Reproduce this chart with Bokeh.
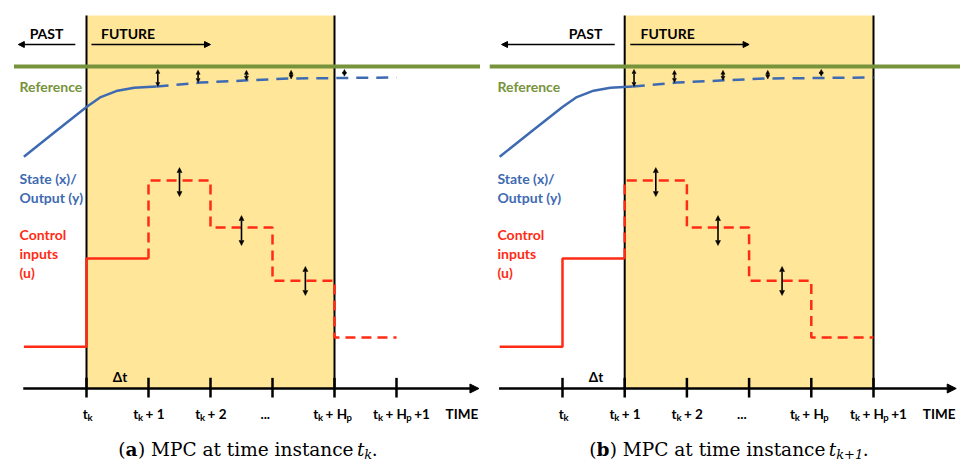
from bokeh.plotting import figure
from bokeh.models import ColumnDataSource, Arrow, NormalHead, Range1d
from bokeh.layouts import row
from bokeh.embed import file_html
from bokeh.resources import INLINE
from bokeh.core.properties import value, field

# ---------------- data (time in steps relative to t_k) ----------------
ref_level = 10.0
ref_t = [-1.17, 6.4]

state_meas_t = [-1.01, -0.5, 0.0, 0.23, 0.5, 0.77, 1.13]
state_meas_v = [7.20, 7.98, 8.74, 9.05, 9.25, 9.34, 9.38]
state_pred_t = [1.13, 1.84, 2.6, 3.3, 4.0, 5.0]
state_pred_v = [9.38, 9.50, 9.57, 9.63, 9.64, 9.66]

u_past_edges = [-1.01, 0, 1]
u_past_vals = [1.30, 4.04]
u_future_edges = [1, 2, 3, 4, 5]
u_future_vals = [6.46, 5.00, 3.35, 1.58]

track_t = [1.15, 1.8, 2.58, 3.3, 4.16]
track_top = [9.91, 9.88, 9.88, 9.88, 9.91]
track_bot = [9.38, 9.50, 9.57, 9.61, 9.70]

move_t = [1.5, 2.5, 3.53]
move_top = [6.86, 5.37, 3.79]
move_bot = [5.96, 4.44, 2.89]

tick_t = [0, 1, 2, 3, 4, 5]
tick_labels = ["t_k", "t_k + 1", "t_k + 2", "...", "t_k + H_p", "t_k + H_p +1"]
tick_label_shift = [1, 0, 0, -7, -2, 5]   # px

side_labels = [("Reference", 9.38, "green"), ("State (x)/", 6.52, "blue"),
               ("Output (y)", 5.93, "blue"), ("Control", 4.78, "red"),
               ("inputs", 4.19, "red"), ("(u)", 3.60, "red")]

panels = [
    dict(letter="a", horizon=(0, 4), past_arrow=(-0.18, -1.10), future_arrow=(0.08, 2.0),
         past_label=-0.645, future_label=0.67, label_t=-1.08, caption_sub="k",
         caption_center=2.605, width=480, t0_px=86, scale=62.0),
    dict(letter="b", horizon=(1, 5), past_arrow=(0.84, -0.98), future_arrow=(1.09, 3.0),
         past_label=0.37, future_label=1.69, label_t=-1.045, caption_sub="k+1",
         caption_center=2.677, width=480, t0_px=82, scale=62.2),
]

GREEN = "#77933C"
BLUE = "#3E6AB2"
RED = "#FF2B14"
YELLOW = "#FFE699"
COLORS = {"green": GREEN, "blue": BLUE, "red": RED}

H = 461
Y_SCALE = 32.2
Y_AXIS_PX = 388
BOX_TOP = 11.58
TICK_TOP, TICK_BOT = 0.33, -0.28
AXIS_T = (-1.02, 6.33)

LATO_B = {' ': 0.193, 't': 0.355, 'k': 0.52, 'p': 0.565, 'H': 0.77, '+': 0.58,
          '1': 0.58, '2': 0.58, '.': 0.25}
DJS = {' ': 0.318, '(': 0.39, ')': 0.39, 'M': 0.926, 'P': 0.678, 'C': 0.718, 'a': 0.598,
       't': 0.402, 'i': 0.32, 'm': 0.957, 'e': 0.592, 'n': 0.641, 's': 0.518, 'c': 0.549,
       '.': 0.318, 'k': 0.58, '+': 0.838, '1': 0.636, 'b': 0.64}
DJS_BOLD = {'a': 0.675, 'b': 0.716}


def width(txt, size, style, table, bold_table=None):
    w = 0
    for ch in txt:
        if style == "bold" and bold_table and ch in bold_table:
            w += bold_table[ch]
        else:
            w += table.get(ch, 0.55)
    return w * size


def parse_sub(label):
    pieces, buf, i = [], "", 0
    while i < len(label):
        if label[i] == "_" and i + 1 < len(label):
            if buf:
                pieces.append((buf, False))
            pieces.append((label[i + 1], True))
            buf = ""
            i += 2
        else:
            buf += label[i]
            i += 1
    if buf:
        pieces.append((buf, False))
    return pieces


def step_path(edges, vals, start_val=None):
    xs, ys = [], []
    if start_val is not None:
        xs.append(edges[0]); ys.append(start_val)
    for k, v in enumerate(vals):
        xs += [edges[k], edges[k + 1]]
        ys += [v, v]
    return xs, ys


def lay_out(pieces, table, bold_table, start):
    """pieces: (text, size, style, dy). leading spaces become offsets (SVG strips them)."""
    out = []
    xo = start
    for s, sz, st, dy in pieces:
        lead = len(s) - len(s.lstrip(" "))
        xo += width(" " * lead, sz, st, table, bold_table)
        core = s.lstrip(" ")
        out.append((core, xo, sz, st, dy))
        xo += width(core, sz, st, table, bold_table)
    return out


def total_width(pieces, table, bold_table):
    return sum(width(s, sz, st, table, bold_table) for s, sz, st, dy in pieces)


def make_panel(cfg):
    w = cfg["width"]
    sc = cfg["scale"]
    x0 = -cfg["t0_px"] / sc
    y1 = Y_AXIS_PX / Y_SCALE
    p = figure(width=w, height=H, output_backend="svg", toolbar_location=None,
               x_axis_location=None, y_axis_location=None, min_border=0,
               x_range=Range1d(x0, x0 + w / sc), y_range=Range1d(y1 - H / Y_SCALE, y1))
    p.grid.visible = False
    p.outline_line_color = None
    p.background_fill_color = "white"
    p.border_fill_color = "white"

    h0, h1 = cfg["horizon"]
    p.quad(left=[h0], right=[h1], bottom=[0], top=[BOX_TOP], fill_color=YELLOW, line_color=None)
    p.segment(x0=[h0, h1], y0=[0, 0], x1=[h0, h1], y1=[BOX_TOP, BOX_TOP], line_color="black", line_width=2)
    p.segment(x0=tick_t, y0=[TICK_BOT] * len(tick_t), x1=tick_t, y1=[TICK_TOP] * len(tick_t),
              line_color="black", line_width=2.5)
    p.add_layout(Arrow(end=NormalHead(size=9, fill_color="black", line_color="black"),
                       x_start=AXIS_T[0], y_start=0, x_end=AXIS_T[1], y_end=0,
                       line_color="black", line_width=2.5))

    p.line(ref_t, [ref_level, ref_level], line_color=GREEN, line_width=4)

    p.line(state_meas_t, state_meas_v, line_color=BLUE, line_width=2.5)
    p.line(state_pred_t, state_pred_v, line_color=BLUE, line_width=2.5, line_dash="12 8")

    xs, ys = step_path(u_past_edges, u_past_vals)
    p.line(xs, ys, line_color=RED, line_width=2.5)
    xs, ys = step_path(u_future_edges, u_future_vals, start_val=u_past_vals[-1])
    p.line(xs, ys, line_color=RED, line_width=2.5, line_dash="10 6")

    for tt, top, bot, hs in ((track_t, track_top, track_bot, 4), (move_t, move_top, move_bot, 5)):
        src = ColumnDataSource(dict(x0=tt, y0=top, x1=tt, y1=bot))
        p.add_layout(Arrow(start=NormalHead(size=hs, fill_color="black", line_color="black", line_width=0.5),
                           end=NormalHead(size=hs, fill_color="black", line_color="black", line_width=0.5),
                           x_start="x0", y_start="y0", x_end="x1", y_end="y1", source=src,
                           line_color="black", line_width=1.6))

    yv_arrow = (388 - 44) / Y_SCALE
    for a in (cfg["past_arrow"], cfg["future_arrow"]):
        p.add_layout(Arrow(end=NormalHead(size=6, fill_color="black", line_color="black", line_width=1),
                           x_start=a[0], y_start=yv_arrow, x_end=a[1], y_end=yv_arrow,
                           line_color="black", line_width=1.3))

    # ---------- texts ----------
    lato = value("Lato")
    yv_pf = (388 - 33) / Y_SCALE
    p.text(x=[cfg["past_label"], cfg["future_label"]], y=[yv_pf, yv_pf], text=["PAST", "FUTURE"],
           text_font=lato, text_font_style="bold", text_font_size="14px", text_color="black",
           text_align="center", text_baseline="middle")
    p.text(x=[cfg["label_t"]] * len(side_labels), y=[s[1] for s in side_labels],
           text=[s[0] for s in side_labels], text_color=[COLORS[s[2]] for s in side_labels],
           text_font=lato, text_font_style="bold", text_font_size="14px",
           text_align="left", text_baseline="middle")
    p.text(x=[0.54], y=[(388 - 376) / Y_SCALE], text=["Δt"], text_font=lato, text_font_style="bold",
           text_font_size="13.5px", text_color="black", text_align="center", text_baseline="middle")

    mid_tick = (388 - 413) / Y_SCALE
    tx, ty, ttext, txo, tyo, tsize = [], [], [], [], [], []
    for t, lab, sh in zip(tick_t, tick_labels, tick_label_shift):
        pcs = [(s, 9.5 if sub else 13.5, "bold", 4 if sub else 0) for s, sub in parse_sub(lab)]
        tw = total_width(pcs, LATO_B, None)
        for s, xo, sz, st, dy in lay_out(pcs, LATO_B, None, -tw / 2 + sh):
            tx.append(t); ty.append(mid_tick); ttext.append(s); txo.append(xo)
            tyo.append(dy); tsize.append(f"{sz}px")
    tx.append(6.05); ty.append(mid_tick); ttext.append("TIME"); txo.append(-16); tyo.append(0); tsize.append("13.5px")
    src = ColumnDataSource(dict(x=tx, y=ty, text=ttext, xo=txo, yo=tyo, size=tsize))
    p.text(x="x", y="y", text="text", x_offset="xo", y_offset="yo", text_font_size=field("size"),
           source=src, text_font=lato, text_font_style="bold", text_color="black",
           text_align="left", text_baseline="middle")

    # caption
    cs = 18.5
    cap = [("(", cs, "normal", 0), (cfg["letter"], cs, "bold", 0), (") MPC at time instance ", cs, "normal", 0),
           ("t", cs, "italic", 0), (cfg["caption_sub"], 13, "italic", 5), (".", cs, "normal", 0)]
    tw = total_width(cap, DJS, DJS_BOLD)
    cx, cy, ctext, cxo, cyo, csz, cst = [], [], [], [], [], [], []
    mid_cap = (388 - 448.5) / Y_SCALE
    for s, xo, sz, st, dy in lay_out(cap, DJS, DJS_BOLD, -tw / 2):
        cx.append(cfg["caption_center"]); cy.append(mid_cap); ctext.append(s); cxo.append(xo)
        cyo.append(dy); csz.append(f"{sz}px"); cst.append(st)
    src = ColumnDataSource(dict(x=cx, y=cy, text=ctext, xo=cxo, yo=cyo, size=csz, style=cst))
    p.text(x="x", y="y", text="text", x_offset="xo", y_offset="yo", text_font_size=field("size"),
           text_font_style=field("style"), source=src, text_font=value("DejaVu Serif"),
           text_color="black", text_align="left", text_baseline="middle")
    return p


pa = make_panel(panels[0])
pb = make_panel(panels[1])
layout = row(pa, pb)
open("out.html", "w").write(file_html(layout, INLINE))
